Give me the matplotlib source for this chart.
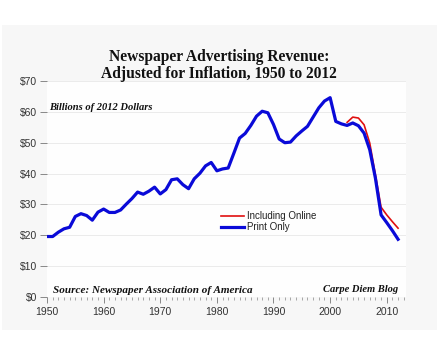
import numpy as np
import matplotlib
matplotlib.use("Agg")
import matplotlib.pyplot as plt
from matplotlib.patches import Rectangle
from matplotlib.ticker import MultipleLocator, FuncFormatter

# ---- data (billions of 2012 dollars) ----
print_years = list(range(1950, 2013))
print_only = [
    19.6, 19.6, 21.0, 22.1, 22.6, 26.1, 27.0, 26.4, 24.9, 27.5,   # 1950s
    28.5, 27.4, 27.4, 28.2, 30.1, 31.9, 34.0, 33.3, 34.3, 35.6,   # 1960s
    33.4, 34.8, 38.0, 38.3, 36.4, 35.1, 38.3, 40.1, 42.5, 43.6,   # 1970s
    40.9, 41.5, 41.8, 46.6, 51.5, 53.0, 55.6, 58.6, 60.2, 59.7,   # 1980s
    55.9, 51.2, 50.0, 50.2, 52.2, 53.8, 55.3, 58.3, 61.3, 63.5,   # 1990s
    64.6, 56.9, 56.1, 55.6, 56.4, 55.5, 53.1, 47.7, 38.5, 26.6,   # 2000s
    24.1, 21.5, 18.7,                                             # 2010s
]

online_years = list(range(2003, 2013))
incl_online = [56.6, 58.3, 58.0, 55.8, 49.9, 39.6, 29.1, 26.6, 24.4, 22.3]

title = "Newspaper Advertising Revenue:\nAdjusted for Inflation, 1950 to 2012"
units_note = "Billions of 2012 Dollars"
source_note = "Source: Newspaper Association of America"
blog_note = "Carpe Diem Blog"

# ---- figure ----
W, H = 439, 362
fig = plt.figure(figsize=(W / 100, H / 100), dpi=100, facecolor="white")

# light grey panel behind everything
fig.patches.append(Rectangle((2 / W, 1 - 330 / H), 435 / W, 305 / H,
                             transform=fig.transFigure, facecolor="#f7f7f7",
                             edgecolor="none", zorder=-10))

ax = fig.add_axes([47 / W, 1 - 297 / H, (406 - 47) / W, (297 - 81) / H])
ax.set_zorder(2)
ax.set_facecolor("#fefefe")

ax.plot(online_years, incl_online, color="#e01010", lw=1.2, label="Including Online", zorder=3)
ax.plot(print_years, print_only, color="#0a0ad8", lw=2.3, label="Print Only", zorder=4,
        solid_joinstyle="round")

ax.set_xlim(1950, 2013.4)
ax.set_ylim(0, 70)

for s in ax.spines.values():
    s.set_visible(False)

ax.yaxis.set_major_locator(MultipleLocator(10))
ax.yaxis.set_major_formatter(FuncFormatter(lambda v, p: f"${v:.0f}"))
ax.xaxis.set_major_locator(MultipleLocator(10))
ax.xaxis.set_minor_locator(MultipleLocator(1))
ax.grid(axis="y", color="#ebebeb", lw=0.7)
ax.set_axisbelow(True)

ax.tick_params(axis="y", which="major", length=5, width=0.6, color="#777777",
               labelsize=7.5, labelcolor="#333333", pad=2)
ax.tick_params(axis="x", which="major", length=4, width=0.6, color="#777777",
               labelsize=7.5, labelcolor="#333333", pad=3)
ax.tick_params(axis="x", which="minor", length=2.5, width=0.6, color="#999999")
for lab in ax.get_xticklabels() + ax.get_yticklabels():
    lab.set_fontfamily("Liberation Sans")

leg = ax.legend(loc="upper left", bbox_to_anchor=(0.47, 0.42), frameon=False,
                fontsize=7, handlelength=2.4, handletextpad=0.3, labelspacing=0.12,
                borderpad=0)
for t in leg.get_texts():
    t.set_fontfamily("Liberation Sans")
    t.set_color("#222222")

serif = "Liberation Serif"
fig.text(219 / W, 1 - 49 / H, title, ha="center", va="top", fontsize=11.2,
         fontweight="bold", family=serif, linespacing=1.08, color="#111111")
fig.text(49 / W, 1 - 110 / H, units_note, ha="left", va="baseline", fontsize=7.6,
         fontweight="bold", fontstyle="italic", family=serif, color="#111111")
fig.text(53 / W, 1 - 293 / H, source_note, ha="left", va="baseline", fontsize=8.0,
         fontweight="bold", fontstyle="italic", family=serif, color="#111111")
fig.text(398 / W, 1 - 292 / H, blog_note, ha="right", va="baseline", fontsize=7.6,
         fontweight="bold", fontstyle="italic", family=serif, color="#111111")

fig.savefig("out.png", dpi=100, facecolor="white")
